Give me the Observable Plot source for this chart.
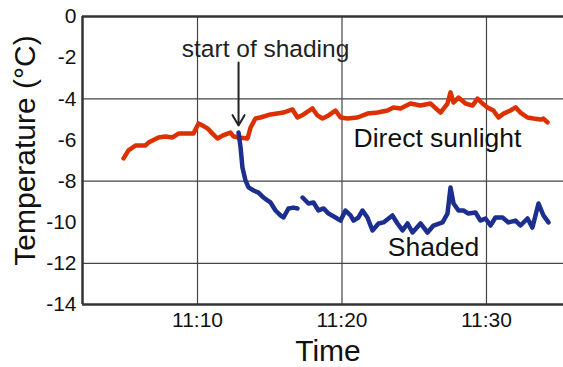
<!DOCTYPE html>
<html><head><meta charset="utf-8">
<script src="https://cdn.jsdelivr.net/npm/d3@7"></script>
<script src="https://cdn.jsdelivr.net/npm/@observablehq/plot@0.6"></script>
<style>
html,body{margin:0;padding:0;background:#fff;}
#chart svg{display:block;}
</style></head><body><div id="chart"></div>
<script>
// Minutes after 11:00 and temperatures (°C)
const sunMinutes = [4.88,5.22,5.71,6.40,6.61,7.30,7.79,8.27,8.69,9.38,9.72,10.07,10.35,10.69,11.04,11.38,11.73,12.08,12.28,12.49,12.84,13.46,13.67,14.01,14.36,15.05,15.95,16.57,16.92,17.34,17.96,18.30,18.65,19.07,19.55,19.90,20.38,21.07,21.76,22.46,23.15,23.56,24.05,24.74,25.43,26.12,26.82,27.30,27.51,27.72,28.06,28.55,29.03,29.38,29.72,30.07,30.48,30.83,31.18,31.66,32.01,32.35,32.84,33.25,33.74,33.94,34.22];
const sunTemp = [-6.90,-6.51,-6.27,-6.27,-6.13,-5.88,-5.83,-5.88,-5.69,-5.69,-5.69,-5.20,-5.30,-5.44,-5.69,-5.93,-5.79,-5.69,-5.64,-5.83,-5.88,-5.93,-5.40,-4.96,-4.91,-4.76,-4.67,-4.52,-4.91,-4.76,-4.47,-4.81,-4.96,-4.81,-4.57,-4.91,-4.96,-4.91,-4.72,-4.67,-4.57,-4.42,-4.47,-4.23,-4.33,-4.23,-4.67,-4.23,-3.69,-4.18,-3.94,-4.23,-4.33,-3.99,-4.23,-4.42,-4.57,-4.91,-4.72,-4.57,-4.42,-4.67,-4.91,-4.96,-5.01,-4.96,-5.15];
const shadeMinutes = [12.84,12.98,13.11,13.32,13.53,13.88,14.22,14.57,14.84,15.05,15.40,15.74,15.95,16.30,16.64,16.92,17.10,17.27,17.68,18.03,18.37,18.72,19.07,19.55,19.90,20.24,20.59,20.80,21.14,21.42,21.76,22.11,22.53,22.87,23.49,23.84,24.19,24.53,24.88,25.43,25.92,26.33,26.96,27.30,27.51,27.72,28.06,28.41,28.75,29.24,29.58,29.93,30.28,30.62,31.11,31.52,32.01,32.35,32.84,33.18,33.60,33.94,34.29];
const shadeTemp = [-5.64,-6.37,-7.34,-7.97,-8.31,-8.46,-8.56,-8.80,-8.94,-9.04,-9.43,-9.67,-9.77,-9.33,-9.29,-9.33,null,-8.80,-9.09,-9.04,-9.43,-9.33,-9.58,-9.77,-9.92,-9.43,-9.67,-9.92,-9.77,-9.43,-9.77,-10.40,-10.06,-10.01,-9.67,-10.06,-10.40,-10.06,-10.50,-10.06,-10.50,-10.16,-10.01,-9.58,-8.31,-9.09,-9.43,-9.43,-9.58,-9.53,-9.92,-9.82,-10.16,-9.77,-9.77,-10.01,-9.92,-10.16,-9.82,-10.26,-9.09,-9.67,-10.01];

const xTickMinutes = [10, 20, 30];
const yTickValues = [0, -2, -4, -6, -8, -10, -12, -14];
const yGridValues = [-4, -8, -12];
const xDomainMinutes = [2.04, 35.33];
const yDomain = [-14, 0];

const seriesLabels = ["Direct sunlight", "Shaded"];
const seriesLabelMinutes = [26.61, 26.33];
const seriesLabelTemp = [-6.32, -11.62];

const noteText = "start of shading";
const noteMinutes = 14.71;
const noteTemp = -1.98;
const arrowMinutes = 12.84;
const arrowFromTemp = -2.24;
const arrowToTemp = -5.30;

const xTitle = "Time";
const yTitle = "Temperature (°C)";

// helpers
const base = new Date(2024, 0, 1, 11, 0, 0).getTime();
const toDate = m => new Date(base + m * 60000);

const sun = sunMinutes.map((m, i) => ({t: toDate(m), v: sunTemp[i]}));
const shade = shadeMinutes.map((m, i) => ({t: toDate(m), v: shadeTemp[i] == null ? NaN : shadeTemp[i]}));
const labels = seriesLabels.map((s, i) => ({s, t: toDate(seriesLabelMinutes[i]), v: seriesLabelTemp[i]}));
const xTicks = xTickMinutes.map(toDate);
const xDomain = xDomainMinutes.map(toDate);

const chart = Plot.plot({
  width: 563,
  height: 367,
  marginLeft: 82,
  marginTop: 16,
  marginBottom: 63,
  marginRight: 0,
  style: {fontFamily: "'Liberation Sans', Arial, sans-serif", fontSize: "21px", color: "#111", background: "#fff"},
  x: {type: "time", domain: xDomain, ticks: xTicks, tickFormat: d3.timeFormat("%H:%M"), tickSize: 0, tickPadding: 8, label: null},
  y: {domain: yDomain, ticks: yTickValues, tickFormat: d => `${d}`, tickSize: 0, tickPadding: 6, label: null},
  marks: [
    Plot.ruleY(yGridValues, {stroke: "#444", strokeWidth: 1.2}),
    Plot.ruleX(xTicks, {stroke: "#444", strokeWidth: 1.2}),
    Plot.ruleY([yDomain[0], yDomain[1]], {stroke: "#333", strokeWidth: 2.5}),
    Plot.ruleX([xDomain[0]], {stroke: "#333", strokeWidth: 2.5}),
    Plot.line(sun, {x: "t", y: "v", stroke: "#dc3000", strokeWidth: 4.5, strokeLinejoin: "round", strokeLinecap: "round"}),
    Plot.line(shade, {x: "t", y: "v", stroke: "#1c2f8f", strokeWidth: 4.5, strokeLinejoin: "round", strokeLinecap: "round"}),
    Plot.arrow([{}], {x1: () => toDate(arrowMinutes), x2: () => toDate(arrowMinutes), y1: () => arrowFromTemp, y2: () => arrowToTemp, stroke: "#222", strokeWidth: 2, headLength: 9}),
    Plot.text([noteText], {x: () => toDate(noteMinutes), y: () => noteTemp, text: d => d, fontSize: 24.5, fill: "#222", lineAnchor: "bottom", textAnchor: "middle"}),
    Plot.text(labels, {x: "t", y: "v", text: "s", fontSize: 26.5, fill: "#111", lineAnchor: "bottom", textAnchor: "middle"}),
    Plot.text([yTitle], {text: d => d, frameAnchor: "left", dx: -48, dy: -10, rotate: -90, fontSize: 30, fill: "#111", lineAnchor: "bottom", textAnchor: "middle"}),
    Plot.text([xTitle], {text: d => d, frameAnchor: "bottom", dx: 5, dy: 56, fontSize: 30, fill: "#111", lineAnchor: "bottom", textAnchor: "middle"})
  ]
});
document.getElementById("chart").appendChild(chart);
</script>
</body></html>
